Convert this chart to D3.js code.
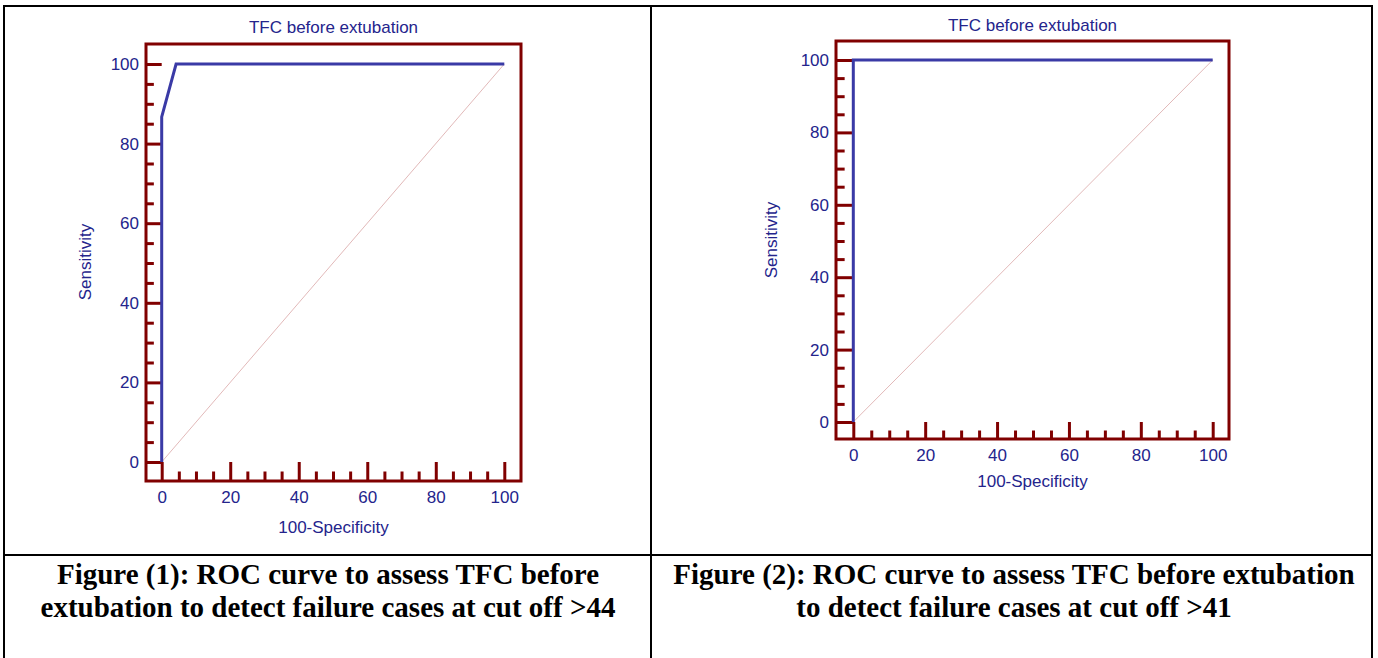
<!DOCTYPE html>
<html><head><meta charset="utf-8">
<script src="https://cdn.jsdelivr.net/npm/d3@7"></script>
<style>
html,body{margin:0;padding:0;background:#fff;}
svg{display:block;}
</style></head>
<body>
<svg id="c" width="1378" height="658"></svg>
<script>
// ---- data ----
const chartTitle = "TFC before extubation";
const xLabel = "100-Specificity";
const yLabel = "Sensitivity";
const majorTicks = [0, 20, 40, 60, 80, 100];
const minorTicks = [5,10,15,25,30,35,45,50,55,65,70,75,85,90,95];
// ROC curve 1 (cut off >44)
const roc1X = [0, 0, 4.2, 100];
const roc1Y = [0, 86.7, 100, 100];
// ROC curve 2 (cut off >41)
const roc2X = [0, 0, 100];
const roc2Y = [0, 100, 100];
const refX = [0, 100];
const refY = [0, 100];
const caption1 = ["Figure (1): ROC curve to assess TFC before", "extubation to detect failure cases at cut off >44"];
const caption2 = ["Figure (2): ROC curve to assess TFC before extubation", "to detect failure cases at cut off >41"];

const svg = d3.select("#c");
const FRAME = "#800000", CURVE = "#3a3aa6", TXT = "#24248c", DIAG = "#e2b9b9";
const sans = "'Liberation Sans', Arial, sans-serif";

// ---- table lines ----
const tl = svg.append("g").attr("stroke", "#000").attr("stroke-width", 2);
tl.append("line").attr("x1", 4).attr("x2", 1373).attr("y1", 6).attr("y2", 6);
tl.append("line").attr("x1", 4).attr("x2", 4).attr("y1", 5).attr("y2", 658);
tl.append("line").attr("x1", 1372).attr("x2", 1372).attr("y1", 5).attr("y2", 658);
tl.append("line").attr("x1", 651).attr("x2", 651).attr("y1", 5).attr("y2", 658);
tl.append("line").attr("x1", 4).attr("x2", 1373).attr("y1", 555).attr("y2", 555);

function drawChart(cfg, xs, ys) {
  const g = svg.append("g");
  const x = d3.scaleLinear().domain([0, 100]).range([cfg.x0, cfg.x1]);
  const y = d3.scaleLinear().domain([0, 100]).range([cfg.y0, cfg.y1]);
  const majY = cfg.x0 - cfg.fl, majX = cfg.fb - cfg.y0;

  const line = d3.line().x(d => x(d[0])).y(d => y(d[1]));
  g.append("path").datum(refX.map((v, i) => [v, refY[i]]))
    .attr("d", line).attr("fill", "none").attr("stroke", DIAG).attr("stroke-width", 1);

  g.append("rect").attr("x", cfg.fl).attr("y", cfg.ft)
    .attr("width", cfg.fr - cfg.fl).attr("height", cfg.fb - cfg.ft)
    .attr("fill", "none").attr("stroke", FRAME).attr("stroke-width", 3);

  const ya = g.append("g").attr("transform", `translate(${cfg.fl},0)`)
    .call(d3.axisLeft(y).tickValues(majorTicks).tickSize(-majY).tickPadding(7).tickFormat(d3.format("d")));
  const yb = g.append("g").attr("transform", `translate(${cfg.fl},0)`)
    .call(d3.axisLeft(y).tickValues(minorTicks).tickSize(-majY / 2).tickFormat(""));
  const xa = g.append("g").attr("transform", `translate(0,${cfg.fb})`)
    .call(d3.axisBottom(x).tickValues(majorTicks).tickSize(-majX).tickPadding(cfg.xpad).tickFormat(d3.format("d")));
  const xb = g.append("g").attr("transform", `translate(0,${cfg.fb})`)
    .call(d3.axisBottom(x).tickValues(minorTicks).tickSize(-majX / 2).tickFormat(""));
  [ya, yb, xa, xb].forEach(a => {
    a.select(".domain").remove();
    a.selectAll(".tick line").attr("stroke", FRAME).attr("stroke-width", 3);
    a.selectAll(".tick text").attr("fill", TXT).attr("font-family", sans).attr("font-size", 17);
  });

  g.append("path").datum(xs.map((v, i) => [v, ys[i]]))
    .attr("d", line).attr("fill", "none").attr("stroke", CURVE)
    .attr("stroke-width", 3).attr("stroke-linejoin", "miter");

  g.append("text").attr("x", (cfg.fl + cfg.fr) / 2).attr("y", cfg.ty)
    .attr("text-anchor", "middle").attr("fill", TXT).attr("font-family", sans).attr("font-size", 17)
    .text(chartTitle);
  g.append("text").attr("x", (cfg.fl + cfg.fr) / 2).attr("y", cfg.xly)
    .attr("text-anchor", "middle").attr("fill", TXT).attr("font-family", sans).attr("font-size", 17)
    .text(xLabel);
  g.append("text").attr("transform", `translate(${cfg.ylx},${cfg.yly}) rotate(-90)`)
    .attr("text-anchor", "middle").attr("fill", TXT).attr("font-family", sans).attr("font-size", 17)
    .text(yLabel);
}

drawChart({fl: 146, fr: 521, ft: 44, fb: 481, x0: 161.7, x1: 504.3, y0: 462, y1: 64,
  ty: 33, xly: 533, ylx: 91, yly: 262, xpad: 10}, roc1X, roc1Y);
drawChart({fl: 836, fr: 1229, ft: 41, fb: 439, x0: 853.3, x1: 1212.7, y0: 422, y1: 60,
  ty: 31, xly: 487, ylx: 777, yly: 240, xpad: 10}, roc2X, roc2Y);

const serif = "'Liberation Serif', 'Times New Roman', serif";
function caption(lines, cx) {
  lines.forEach((t, i) => {
    svg.append("text").attr("x", cx).attr("y", 584 + i * 32.5)
      .attr("text-anchor", "middle").attr("font-family", serif).attr("font-weight", "bold")
      .attr("font-size", 29).attr("fill", "#000").text(t);
  });
}
caption(caption1, 328);
caption(caption2, 1014);
</script>
</body></html>
